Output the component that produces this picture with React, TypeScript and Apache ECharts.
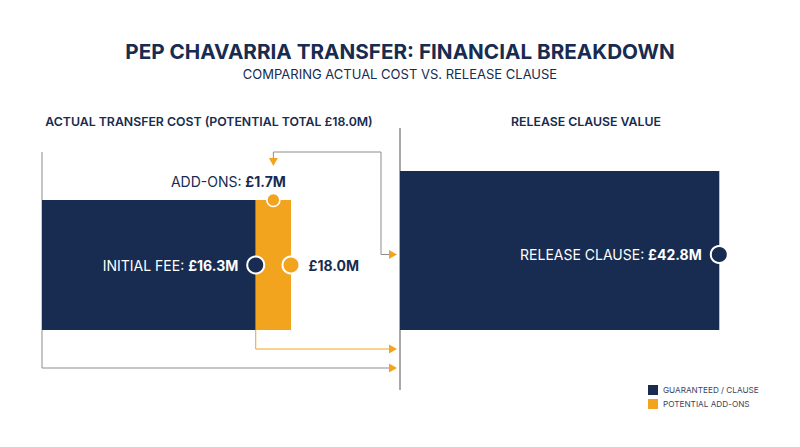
import { useEffect, useRef } from 'react';
import * as echarts from 'echarts';

// values (£ millions)
const costCategories = ['ACTUAL TRANSFER COST'];
const clauseCategories = ['RELEASE CLAUSE VALUE'];
const segmentLabels = ['INITIAL FEE', 'ADD-ONS'];
const initialFeeValues = [16.3];
const addOnValues = [1.7];
const releaseClauseValues = [42.8];
const legendLabels = ['GUARANTEED / CLAUSE', 'POTENTIAL ADD-ONS'];

const NAVY = '#182b50';
const ORANGE = '#f3a41f';
const GRAY = '#8d8d8d';
const FONT = 'Inter, "Open Sans", sans-serif';

// layout of the two plot areas
const LEFT = { left: 42, top: 200, width: 332, height: 130 };
const RIGHT = { left: 400, top: 171, width: 373, height: 159 };

const fmt = (v: number) => `£${v.toFixed(1)}M`;

export default function App() {
  const ref = useRef<HTMLDivElement>(null);

  useEffect(() => {
    if (!ref.current) return;
    const chart = echarts.init(ref.current, null, { renderer: 'svg' });
    const fee = initialFeeValues[0];
    const addOn = addOnValues[0];
    const total = fee + addOn;
    const clause = releaseClauseValues[0];

    chart.setOption({
      animation: false,
      backgroundColor: '#ffffff',
      textStyle: { fontFamily: FONT },
      title: [
        {
          text: 'PEP CHAVARRIA TRANSFER: FINANCIAL BREAKDOWN',
          subtext: 'COMPARING ACTUAL COST VS. RELEASE CLAUSE',
          left: 'center',
          top: 36,
          itemGap: 5,
          textStyle: { fontFamily: FONT, fontSize: 20.7, fontWeight: 700, color: NAVY },
          subtextStyle: { fontFamily: FONT, fontSize: 13, color: NAVY },
        },
        {
          text: `ACTUAL TRANSFER COST (POTENTIAL TOTAL ${fmt(total)})`,
          left: 204,
          textAlign: 'center',
          top: 110,
          textStyle: { fontFamily: FONT, fontSize: 12.3, fontWeight: 600, color: NAVY },
        },
        {
          text: clauseCategories[0],
          left: 581,
          textAlign: 'center',
          top: 110,
          textStyle: { fontFamily: FONT, fontSize: 12.3, fontWeight: 600, color: NAVY },
        },
      ],
      legend: {
        data: legendLabels,
        orient: 'vertical',
        left: 643,
        top: 380,
        itemWidth: 10,
        itemHeight: 10,
        itemGap: 4,
        icon: 'rect',
        selectedMode: false,
        textStyle: { fontFamily: FONT, fontSize: 8.2, color: '#3a4562' },
      },
      grid: [
        { ...LEFT, containLabel: false },
        { ...RIGHT, containLabel: false },
      ],
      xAxis: [
        { type: 'value', gridIndex: 0, min: 6, max: 22, show: false },
        { type: 'value', gridIndex: 1, min: 0, max: 50, show: false },
      ],
      yAxis: [
        { type: 'category', gridIndex: 0, data: costCategories, show: false },
        { type: 'category', gridIndex: 1, data: clauseCategories, show: false },
      ],
      series: [
        {
          type: 'bar',
          name: legendLabels[0],
          xAxisIndex: 0,
          yAxisIndex: 0,
          stack: 'cost',
          data: initialFeeValues,
          barWidth: '100%',
          clip: true,
          silent: true,
          itemStyle: { color: NAVY },
        },
        {
          type: 'bar',
          name: legendLabels[1],
          xAxisIndex: 0,
          yAxisIndex: 0,
          stack: 'cost',
          data: addOnValues,
          barWidth: '100%',
          clip: true,
          silent: true,
          itemStyle: { color: ORANGE },
        },
        {
          type: 'bar',
          name: legendLabels[0],
          xAxisIndex: 1,
          yAxisIndex: 1,
          data: releaseClauseValues,
          barWidth: '100%',
          clip: true,
          silent: true,
          itemStyle: { color: NAVY },
        },
        {
          type: 'scatter',
          xAxisIndex: 0,
          yAxisIndex: 0,
          silent: true,
          z: 5,
          data: [
            {
              value: [fee, 0],
              symbolSize: 17,
              itemStyle: { color: NAVY, borderColor: '#fff', borderWidth: 2, opacity: 1 },
              label: {
                show: true,
                position: 'left',
                distance: 8,
                formatter: `{l|${segmentLabels[0]}: }{v|${fmt(fee)}}`,
                rich: {
                  l: { fontFamily: FONT, fontSize: 14, color: '#ffffff' },
                  v: { fontFamily: FONT, fontSize: 14, fontWeight: 700, color: '#ffffff' },
                },
              },
            },
            {
              value: [total, 0],
              symbolSize: 17,
              itemStyle: { color: ORANGE, borderColor: '#fff', borderWidth: 2, opacity: 1 },
              label: {
                show: true,
                position: 'right',
                distance: 8,
                formatter: fmt(total),
                fontFamily: FONT,
                fontSize: 14,
                fontWeight: 700,
                color: NAVY,
              },
            },
            {
              value: [fee + addOn / 2, 0],
              symbolSize: 13,
              symbolOffset: [0, -LEFT.height / 2],
              itemStyle: { color: ORANGE, borderColor: '#fff', borderWidth: 1.5, opacity: 1 },
              label: {
                show: true,
                position: 'top',
                distance: 4,
                offset: [-45, 0],
                formatter: `{l|${segmentLabels[1]}: }{v|${fmt(addOn)}}`,
                rich: {
                  l: { fontFamily: FONT, fontSize: 14, color: NAVY },
                  v: { fontFamily: FONT, fontSize: 14, fontWeight: 700, color: NAVY },
                },
              },
            },
          ],
        },
        {
          type: 'scatter',
          xAxisIndex: 1,
          yAxisIndex: 1,
          silent: true,
          z: 5,
          data: [
            {
              value: [clause, 0],
              symbolSize: 17,
              symbolOffset: [0, 4],
              itemStyle: { color: NAVY, borderColor: '#fff', borderWidth: 2, opacity: 1 },
              label: {
                show: true,
                position: 'left',
                distance: 8,
                formatter: `{l|RELEASE CLAUSE: }{v|${fmt(clause)}}`,
                rich: {
                  l: { fontFamily: FONT, fontSize: 14, color: '#ffffff' },
                  v: { fontFamily: FONT, fontSize: 14, fontWeight: 700, color: '#ffffff' },
                },
              },
            },
          ],
        },
      ],
    });

    // connectors, anchored on the axis positions of the data
    const feeEndX = chart.convertToPixel({ xAxisIndex: 0 }, fee) as number;
    const addOnMidX = chart.convertToPixel({ xAxisIndex: 0 }, fee + addOn / 2) as number;
    const divX = RIGHT.left;
    const tipX = divX - 3;
    const leftBottom = LEFT.top + LEFT.height;
    const clauseY = RIGHT.top + RIGHT.height / 2 + 4;
    const topY = 152;
    const routeX = 381;

    const line = (points: number[][], color: string, width = 1) => ({
      type: 'polyline',
      silent: true,
      shape: { points },
      style: { stroke: color, lineWidth: width, fill: null },
    });
    const arrowRight = (y: number) => ({
      type: 'polygon',
      silent: true,
      shape: { points: [[tipX - 8, y - 4.5], [tipX, y], [tipX - 8, y + 4.5]] },
      style: { fill: ORANGE },
    });

    chart.setOption({
      graphic: [
        line([[divX, 128], [divX, 390]], GRAY, 1.5),
        line([[addOnMidX, topY + 6], [addOnMidX, topY], [routeX, topY], [routeX, clauseY], [tipX - 6, clauseY]], GRAY),
        {
          type: 'polygon',
          silent: true,
          shape: { points: [[addOnMidX - 4.5, topY + 6], [addOnMidX, topY + 14], [addOnMidX + 4.5, topY + 6]] },
          style: { fill: ORANGE },
        },
        arrowRight(clauseY),
        line([[feeEndX, leftBottom], [feeEndX, 349], [tipX - 6, 349]], ORANGE),
        arrowRight(349),
        line([[LEFT.left, topY], [LEFT.left, 368], [tipX - 6, 368]], GRAY),
        arrowRight(368),
      ],
    });

    return () => chart.dispose();
  }, []);

  return (
    <div
      ref={ref}
      style={{ position: 'fixed', left: 0, top: 0, width: 800, height: 447, background: '#fff' }}
    />
  );
}
